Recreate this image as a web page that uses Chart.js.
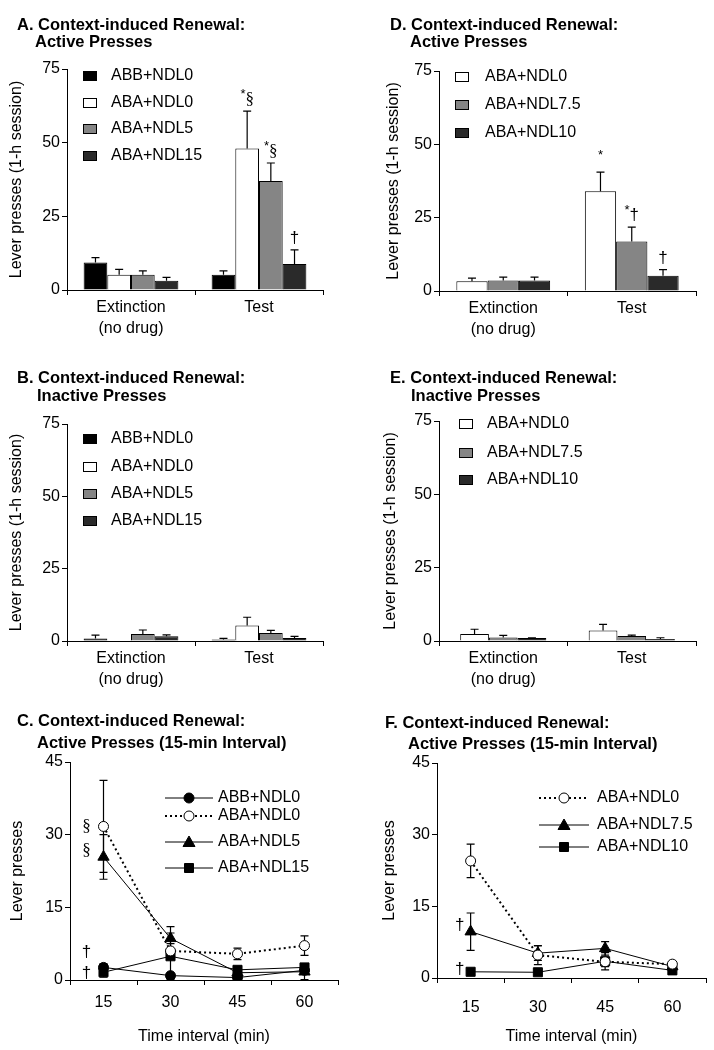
<!DOCTYPE html>
<html>
<head>
<meta charset="utf-8">
<script src="https://cdn.jsdelivr.net/npm/chart.js@4/dist/chart.umd.min.js"></script>
<style>
  body { margin: 0; background: #fff; }
  #page { position: relative; width: 714px; height: 1050px; overflow: hidden; background: #fff; }
  canvas { position: absolute; }
  .ttl { position: absolute; font: bold 16.5px "Liberation Sans", Arial, sans-serif; line-height: 18px; white-space: nowrap; color: #000; }
</style>
</head>
<body>
<div id="page">
  <canvas id="chartA" width="357" height="350" style="left:0;top:0"></canvas>
  <canvas id="chartD" width="357" height="350" style="left:357px;top:0"></canvas>
  <canvas id="chartB" width="357" height="350" style="left:0;top:340px"></canvas>
  <canvas id="chartE" width="357" height="350" style="left:357px;top:340px"></canvas>
  <canvas id="chartC" width="357" height="360" style="left:0;top:690px"></canvas>
  <canvas id="chartF" width="357" height="360" style="left:357px;top:690px"></canvas>

  <div class="ttl" style="left:17px;top:15px">A. Context-induced Renewal:</div>
  <div class="ttl" style="left:35px;top:32px">Active Presses</div>
  <div class="ttl" style="left:390px;top:15px">D. Context-induced Renewal:</div>
  <div class="ttl" style="left:410px;top:32px">Active Presses</div>
  <div class="ttl" style="left:17px;top:368px">B. Context-induced Renewal:</div>
  <div class="ttl" style="left:37px;top:386px">Inactive Presses</div>
  <div class="ttl" style="left:390px;top:368px">E. Context-induced Renewal:</div>
  <div class="ttl" style="left:411px;top:386px">Inactive Presses</div>
  <div class="ttl" style="left:17px;top:711px">C. Context-induced Renewal:</div>
  <div class="ttl" style="left:37px;top:733px">Active Presses (15-min Interval)</div>
  <div class="ttl" style="left:385px;top:713px">F. Context-induced Renewal:</div>
  <div class="ttl" style="left:408px;top:734px">Active Presses (15-min Interval)</div>
</div>
<script>
const SANS = '"Liberation Sans", Arial, Helvetica, sans-serif';
const SERIF = '"Liberation Serif", "Times New Roman", serif';

// categories
const sessions = [['Extinction', '(no drug)'], 'Test'];
const intervals = ['15', '30', '45', '60'];

// experiment 1 (A, B, C)
const groups1 = ['ABB+NDL0', 'ABA+NDL0', 'ABA+NDL5', 'ABA+NDL15'];
const activeA = [[9.3, 5.2], [5.2, 48.0], [5.2, 37.0], [3.1, 8.8]];
const activeA_sem = [[1.7, 1.3], [1.8, 12.7], [1.3, 6.1], [1.2, 4.8]];
const inactiveB = [[0.9, 0.5], [0.3, 5.4], [2.4, 2.8], [1.6, 1.0]];
const inactiveB_sem = [[1.1, 0.4], [0.0, 2.8], [1.4, 0.9], [0.5, 0.6]];
const timeC = [[2.6, 0.9, 0.5, 2.0], [31.7, 6.0, 5.4, 7.1], [25.4, 8.6, 1.5, 1.7], [1.6, 4.9, 2.1, 2.6]];
const timeC_sem = [[0.8, 0.3, 0.3, 0.5], [9.5, 1.5, 1.2, 2.0], [4.6, 2.4, 0.5, 1.6], [1.0, 4.8, 0.6, 0.8]];

// experiment 2 (D, E, F)
const groups2 = ['ABA+NDL0', 'ABA+NDL7.5', 'ABA+NDL10'];
const activeD = [[3.3, 34.0], [3.6, 16.9], [3.6, 5.2]];
const activeD_sem = [[1.1, 6.5], [1.1, 4.9], [1.1, 2.1]];
const inactiveE = [[2.4, 3.6], [1.2, 1.7], [1.0, 0.7]];
const inactiveE_sem = [[1.6, 2.1], [0.7, 0.3], [0.1, 0.4]];
const timeF = [[24.5, 4.8, 3.4, 2.9], [9.7, 5.2, 6.2, 2.4], [1.3, 1.2, 3.5, 1.6]];
const timeF_sem = [[3.5, 2.0, 1.0, 0.5], [3.9, 1.5, 1.4, 0.5], [0.3, 0.3, 1.8, 0.5]];

// significance marks
const marksA = [{ds: 1, i: 1, t: '*§'}, {ds: 2, i: 1, t: '*§'}, {ds: 3, i: 1, t: '†'}];
const marksD = [{ds: 0, i: 1, t: '*'}, {ds: 1, i: 1, t: '*†'}, {ds: 2, i: 1, t: '†'}];
const marksC = [{ds: 1, i: 0, t: '§', dx: -17, dy: 0}, {ds: 2, i: 0, t: '§', dx: -17, dy: -6},
                {ds: 0, i: 0, t: '†', dx: -17, dy: -15}, {ds: 3, i: 0, t: '†', dx: -17, dy: 1}];
const marksF = [{ds: 1, i: 0, t: '†', dx: -11, dy: -6}, {ds: 2, i: 0, t: '†', dx: -11, dy: -2}];

const fills1 = ['#000000', '#ffffff', '#858585', '#2a2a2a'];
const fills2 = ['#ffffff', '#858585', '#2a2a2a'];

Chart.defaults.font.family = SANS;
Chart.defaults.font.size = 16;
Chart.defaults.color = '#000';
Chart.defaults.animation = false;
Chart.defaults.plugins.legend.display = false;
Chart.defaults.plugins.tooltip.enabled = false;

// SEM whiskers (bars: upward only, lines: both ways)
const errPlugin = {
    id: 'errs',
    beforeDatasetsDraw(chart) {
        const ctx = chart.ctx, ys = chart.scales.y, area = chart.chartArea;
        const isBar = chart.config.type === 'bar';
        ctx.save();
        ctx.strokeStyle = '#000';
        ctx.lineWidth = 1.2;
        chart.data.datasets.forEach((ds, k) => {
            if (!ds.sem) return;
            chart.getDatasetMeta(k).data.forEach((el, i) => {
                const v = ds.data[i], e = ds.sem[i];
                if (!e) return;
                const hi = ys.getPixelForValue(v + e);
                const lo = isBar ? el.y : Math.min(ys.getPixelForValue(v - e), area.bottom);
                ctx.beginPath();
                ctx.moveTo(el.x, lo); ctx.lineTo(el.x, hi);
                ctx.moveTo(el.x - 4, hi); ctx.lineTo(el.x + 4, hi);
                if (!isBar && lo < area.bottom) {
                    ctx.moveTo(el.x - 4, lo); ctx.lineTo(el.x + 4, lo);
                }
                ctx.stroke();
            });
        });
        ctx.restore();
    }
};

function drawMarker(ctx, style, x, y, fill) {
    ctx.beginPath();
    if (style === 'circle') {
        ctx.arc(x, y, 5, 0, Math.PI * 2);
    } else if (style === 'triangle') {
        ctx.moveTo(x, y - 6); ctx.lineTo(x + 6, y + 4.5); ctx.lineTo(x - 6, y + 4.5); ctx.closePath();
    } else {
        ctx.rect(x - 4.5, y - 4.5, 9, 9);
    }
    ctx.fillStyle = fill;
    ctx.fill();
    ctx.lineWidth = 1;
    ctx.strokeStyle = '#000';
    ctx.stroke();
}

// hand-drawn key, boxes for bars, line + marker for lines
const keyPlugin = {
    id: 'key',
    afterDraw(chart, args, opts) {
        if (!opts.rows) return;
        const ctx = chart.ctx;
        ctx.save();
        ctx.font = '16px ' + SANS;
        ctx.textBaseline = 'middle';
        chart.data.datasets.forEach((ds, k) => {
            const y = opts.rows[k];
            if (opts.kind === 'box') {
                ctx.fillStyle = ds.backgroundColor;
                ctx.fillRect(opts.x, y - 5, 14, 10);
                ctx.strokeStyle = '#000';
                ctx.lineWidth = 1;
                ctx.strokeRect(opts.x + 0.5, y - 4.5, 13, 9);
            } else {
                ctx.strokeStyle = '#000';
                ctx.lineWidth = ds.borderWidth;
                ctx.setLineDash(ds.borderDash || []);
                ctx.beginPath();
                ctx.moveTo(opts.x, y); ctx.lineTo(opts.x + opts.len, y);
                ctx.stroke();
                ctx.setLineDash([]);
                drawMarker(ctx, ds.pointStyle, opts.x + opts.len / 2, y, ds.pointBackgroundColor);
            }
            ctx.fillStyle = '#000';
            ctx.fillText(ds.label, opts.textX, y);
        });
        ctx.restore();
    }
};

function glyphs(text) {
    return [...text].map(ch => ({
        ch,
        font: ch === '*' ? '13px ' + SANS : ch === '§' ? '17px ' + SERIF : '17px ' + SANS,
        dy: ch === '*' ? -6 : 0
    }));
}

const markPlugin = {
    id: 'marks',
    afterDatasetsDraw(chart, args, opts) {
        if (!opts.list) return;
        const ctx = chart.ctx, ys = chart.scales.y;
        ctx.save();
        ctx.fillStyle = '#000';
        opts.list.forEach(m => {
            const ds = chart.data.datasets[m.ds];
            const el = chart.getDatasetMeta(m.ds).data[m.i];
            let x, y;
            if (opts.kind === 'bar') {
                x = el.x;
                y = ys.getPixelForValue(ds.data[m.i] + (ds.sem ? ds.sem[m.i] : 0)) - 7;
                ctx.textBaseline = 'alphabetic';
            } else {
                x = el.x + m.dx;
                y = el.y + m.dy;
                ctx.textBaseline = 'middle';
            }
            const g = glyphs(m.t);
            let w = 0;
            g.forEach(s => { ctx.font = s.font; s.w = ctx.measureText(s.ch).width; w += s.w; });
            let cx = x - w / 2;
            g.forEach(s => {
                ctx.font = s.font;
                ctx.textAlign = 'left';
                ctx.fillText(s.ch, cx, y + s.dy);
                cx += s.w;
            });
        });
        ctx.restore();
    }
};

function yAxis(max, step, title, width, titlePad) {
    return {
        min: 0, max: max,
        ticks: {stepSize: step, padding: 2, font: {size: 16}},
        grid: {drawOnChartArea: false, tickLength: 5, color: '#000'},
        border: {color: '#000', width: 1},
        title: {display: true, text: title, font: {size: 16}, padding: {top: titlePad, bottom: 0}},
        afterFit: s => { s.width = width; }
    };
}

function barChart(id, groups, means, sems, fills, marks, box) {
    return new Chart(document.getElementById(id), {
        type: 'bar',
        data: {
            labels: sessions,
            datasets: groups.map((g, k) => ({
                label: g,
                data: means[k],
                sem: sems[k],
                backgroundColor: fills[k],
                borderColor: '#000',
                borderWidth: 1,
                categoryPercentage: box.cat,
                barPercentage: 1
            }))
        },
        options: {
            responsive: false,
            layout: {padding: {top: box.top, right: box.right, left: 0, bottom: 0}},
            scales: {
                x: {
                    grid: {drawOnChartArea: false, tickLength: 5, color: '#000', offset: true},
                    border: {color: '#000', width: 1},
                    ticks: {padding: 2, font: {size: 16, lineHeight: 1.3}},
                    afterFit: s => { s.height = box.xh; }
                },
                y: yAxis(75, 25, 'Lever presses (1-h session)', box.left, box.tpad)
            },
            plugins: {
                key: {kind: 'box', x: box.keyX, textX: box.keyText, rows: box.keyRows},
                marks: {kind: 'bar', list: marks}
            }
        },
        plugins: [errPlugin, keyPlugin, markPlugin]
    });
}

function lineChart(id, groups, means, sems, looks, marks, box) {
    return new Chart(document.getElementById(id), {
        type: 'line',
        data: {
            labels: intervals,
            datasets: groups.map((g, k) => ({
                label: g,
                data: means[k],
                sem: sems[k],
                borderColor: '#000',
                borderWidth: looks[k].open ? 2 : 1,
                borderDash: looks[k].open ? [2, 3] : [],
                tension: 0,
                pointStyle: looks[k].shape,
                pointRadius: looks[k].shape === 'triangle' ? 6.5 : looks[k].shape === 'rect' ? 6.4 : 5,
                pointBorderWidth: 1,
                pointBorderColor: '#000',
                pointBackgroundColor: looks[k].open ? '#ffffff' : '#000000'
            }))
        },
        options: {
            responsive: false,
            layout: {padding: {top: box.top, right: box.right, left: 0, bottom: 0}},
            scales: {
                x: {
                    offset: true,
                    grid: {drawOnChartArea: false, tickLength: 5, color: '#000', offset: true},
                    border: {color: '#000', width: 1},
                    ticks: {padding: box.tickPad, font: {size: 16}},
                    title: {display: true, text: 'Time interval (min)', font: {size: 16}, padding: {top: 0, bottom: 4}},
                    afterFit: s => { s.height = box.xh; }
                },
                y: yAxis(45, 15, 'Lever presses', box.left, box.tpad)
            },
            plugins: {
                key: {kind: 'line', x: box.keyX, len: box.keyLen, textX: box.keyText, rows: box.keyRows},
                marks: {kind: 'line', list: marks}
            }
        },
        plugins: [errPlugin, keyPlugin, markPlugin]
    });
}

barChart('chartA', groups1, activeA, activeA_sem, fills1, marksA,
    {top: 69, right: 34, left: 67, xh: 60, cat: 0.74, tpad: 7, keyX: 83, keyText: 111, keyRows: [76, 103, 129, 156]});
barChart('chartB', groups1, inactiveB, inactiveB_sem, fills1, [],
    {top: 84, right: 34, left: 67, xh: 49, cat: 0.74, tpad: 7, keyX: 83, keyText: 111, keyRows: [99, 127, 154, 181]});
barChart('chartD', groups2, activeD, activeD_sem, fills2, marksD,
    {top: 71, right: 18, left: 82, xh: 59, cat: 0.73, tpad: 27, keyX: 98, keyText: 128, keyRows: [77, 105, 133]});
barChart('chartE', groups2, inactiveE, inactiveE_sem, fills2, [],
    {top: 81, right: 18, left: 82, xh: 49, cat: 0.67, tpad: 24, keyX: 102, keyText: 130, keyRows: [84, 113, 140]});

lineChart('chartC', groups1, timeC, timeC_sem,
    [{shape: 'circle'}, {shape: 'circle', open: true}, {shape: 'triangle'}, {shape: 'rect'}], marksC,
    {top: 72, right: 19, left: 70, xh: 70, tickPad: 8, tpad: 8, keyX: 165, keyLen: 48, keyText: 218, keyRows: [108, 126, 152, 178]});
lineChart('chartF', groups2, timeF, timeF_sem,
    [{shape: 'circle', open: true}, {shape: 'triangle'}, {shape: 'rect'}], marksF,
    {top: 73, right: 8, left: 80, xh: 72, tickPad: 15, tpad: 23, keyX: 182, keyLen: 50, keyText: 240, keyRows: [108, 135, 157]});
</script>
</body>
</html>
